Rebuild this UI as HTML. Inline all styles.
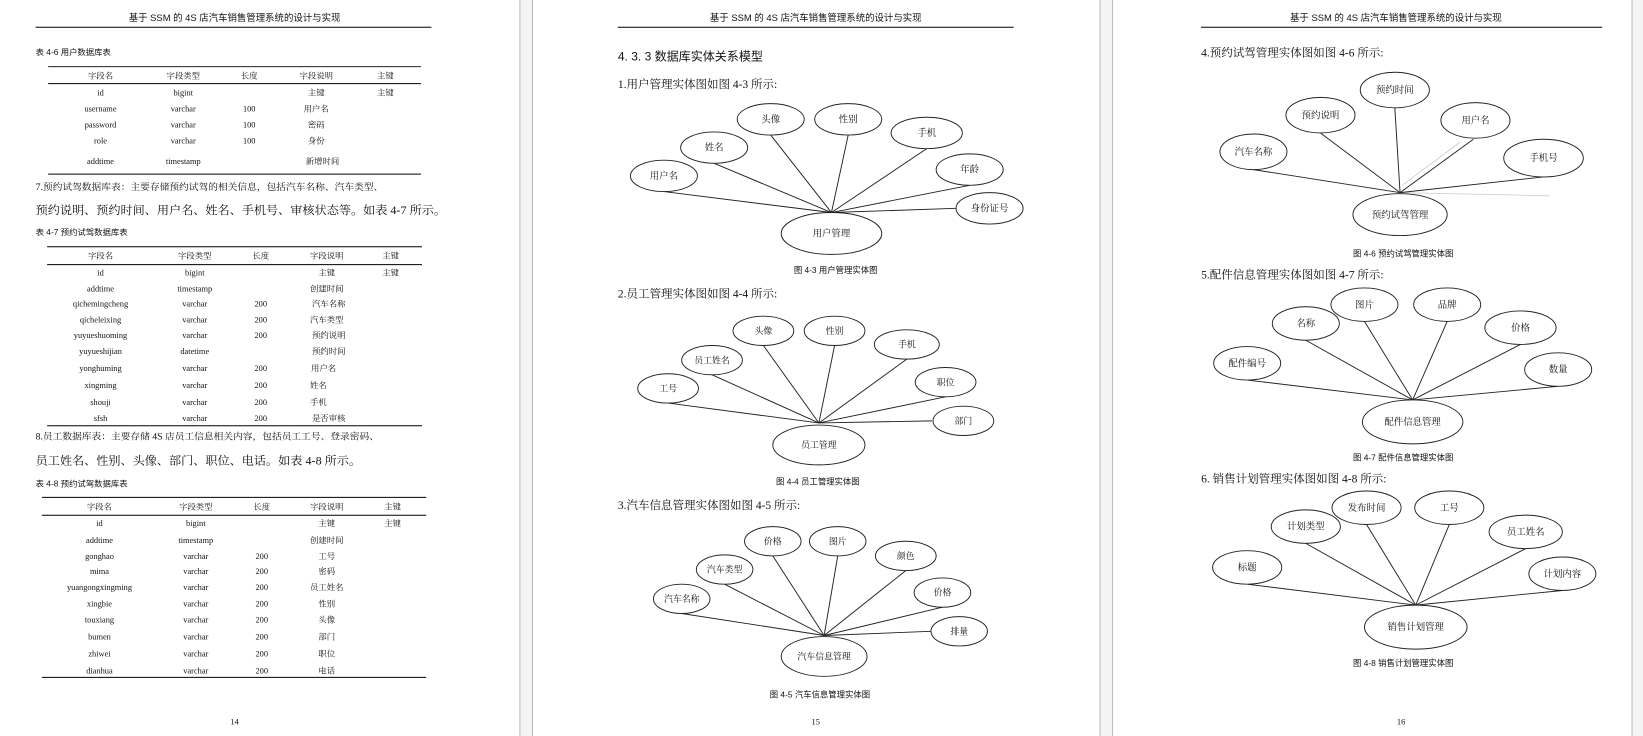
<!DOCTYPE html>
<html><head><meta charset="utf-8"><style>
html,body{margin:0;padding:0;background:#fff;width:1643px;height:736px;overflow:hidden}
svg{display:block}
text{font-family:"Liberation Serif","Noto Serif CJK SC",serif;fill:#111}
.s{font-family:"Liberation Sans","Noto Sans CJK SC",sans-serif}
</style></head><body>
<svg width="1643" height="736" viewBox="0 0 1569 703" preserveAspectRatio="none" xmlns="http://www.w3.org/2000/svg">
<rect x="0" y="0" width="1569" height="703" fill="#fff"/>
<rect x="496" y="0" width="13" height="703" fill="#f4f4f4"/>
<line x1="496.5" y1="0" x2="496.5" y2="703" stroke="#bbb"/><line x1="508.5" y1="0" x2="508.5" y2="703" stroke="#bbb"/>
<rect x="1050" y="0" width="13" height="703" fill="#f4f4f4"/>
<line x1="1050.5" y1="0" x2="1050.5" y2="703" stroke="#bbb"/><line x1="1062.5" y1="0" x2="1062.5" y2="703" stroke="#bbb"/>
<rect x="1558" y="0" width="11" height="703" fill="#f4f4f4"/>
<line x1="1558.5" y1="0" x2="1558.5" y2="703" stroke="#bbb"/>

<!-- PAGE 14 -->
<g font-size="9">
<text x="224" y="20" text-anchor="middle" class="s">基于 SSM 的 4S 店汽车销售管理系统的设计与实现</text>
<line x1="34" y1="26" x2="412" y2="26" stroke="#000"/>
</g>
<g transform="translate(0,1) scale(1,0.95)">
<text x="34" y="54" font-size="8" class="s">表 4-6 用户数据库表</text>
<g stroke="#000" stroke-width="1">
<line x1="46" y1="66" x2="402" y2="66"/><line x1="46" y1="83" x2="402" y2="83"/><line x1="46" y1="174" x2="402" y2="174"/>
<line x1="45" y1="247" x2="403" y2="247"/><line x1="45" y1="265" x2="403" y2="265"/><line x1="45" y1="427" x2="403" y2="427"/>
<line x1="40" y1="499" x2="407" y2="499"/><line x1="40" y1="517" x2="407" y2="517"/><line x1="40" y1="680" x2="407" y2="680"/>
</g>
<g font-size="8" text-anchor="middle">
<text x="96" y="78">字段名</text><text x="175" y="78">字段类型</text><text x="238" y="78">长度</text><text x="302" y="78">字段说明</text><text x="368" y="78">主键</text>
<text x="96" y="95">id</text><text x="175" y="95">bigint</text><text x="302" y="95">主键</text><text x="368" y="95">主键</text>
<text x="96" y="111">username</text><text x="175" y="111">varchar</text><text x="238" y="111">100</text><text x="302" y="111">用户名</text>
<text x="96" y="127">password</text><text x="175" y="127">varchar</text><text x="238" y="127">100</text><text x="302" y="127">密码</text>
<text x="96" y="143">role</text><text x="175" y="143">varchar</text><text x="238" y="143">100</text><text x="302" y="143">身份</text>
<text x="96" y="164">addtime</text><text x="175" y="164">timestamp</text><text x="308" y="164">新增时间</text>
</g>
<text x="34" y="190" font-size="9.3">7.预约试驾数据库表：主要存储预约试驾的相关信息，包括汽车名称、汽车类型、</text>
<text x="34" y="214" font-size="11.6">预约说明、预约时间、用户名、姓名、手机号、审核状态等。如表 4-7 所示。</text>
<text x="34" y="235" font-size="8" class="s">表 4-7 预约试驾数据库表</text>
<g font-size="8" text-anchor="middle">
<text x="96" y="259">字段名</text><text x="186" y="259">字段类型</text><text x="249" y="259">长度</text><text x="312" y="259">字段说明</text><text x="373" y="259">主键</text>
<text x="96" y="276">id</text><text x="186" y="276">bigint</text><text x="312" y="276">主键</text><text x="373" y="276">主键</text>
<text x="96" y="292">addtime</text><text x="186" y="292">timestamp</text><text x="312" y="292">创建时间</text>
<text x="96" y="307">qichemingcheng</text><text x="186" y="307">varchar</text><text x="249" y="307">200</text><text x="314" y="307">汽车名称</text>
<text x="96" y="323">qicheleixing</text><text x="186" y="323">varchar</text><text x="249" y="323">200</text><text x="312" y="323">汽车类型</text>
<text x="96" y="339">yuyueshuoming</text><text x="186" y="339">varchar</text><text x="249" y="339">200</text><text x="314" y="339">预约说明</text>
<text x="96" y="355">yuyueshijian</text><text x="186" y="355">datetime</text><text x="314" y="355">预约时间</text>
<text x="96" y="372">yonghuming</text><text x="186" y="372">varchar</text><text x="249" y="372">200</text><text x="309" y="372">用户名</text>
<text x="96" y="389">xingming</text><text x="186" y="389">varchar</text><text x="249" y="389">200</text><text x="304" y="389">姓名</text>
<text x="96" y="406">shouji</text><text x="186" y="406">varchar</text><text x="249" y="406">200</text><text x="304" y="406">手机</text>
<text x="96" y="422">sfsh</text><text x="186" y="422">varchar</text><text x="249" y="422">200</text><text x="314" y="422">是否审核</text>
</g>
<text x="34" y="441" font-size="9.3">8.员工数据库表：主要存储 4S 店员工信息相关内容，包括员工工号、登录密码、</text>
<text x="34" y="466" font-size="11.6">员工姓名、性别、头像、部门、职位、电话。如表 4-8 所示。</text>
<text x="34" y="488" font-size="8" class="s">表 4-8 预约试驾数据库表</text>
<g font-size="8" text-anchor="middle">
<text x="95" y="511">字段名</text><text x="187" y="511">字段类型</text><text x="250" y="511">长度</text><text x="312" y="511">字段说明</text><text x="375" y="511">主键</text>
<text x="95" y="528">id</text><text x="187" y="528">bigint</text><text x="312" y="528">主键</text><text x="375" y="528">主键</text>
<text x="95" y="545">addtime</text><text x="187" y="545">timestamp</text><text x="312" y="545">创建时间</text>
<text x="95" y="561">gonghao</text><text x="187" y="561">varchar</text><text x="250" y="561">200</text><text x="312" y="561">工号</text>
<text x="95" y="576">mima</text><text x="187" y="576">varchar</text><text x="250" y="576">200</text><text x="312" y="576">密码</text>
<text x="95" y="592">yuangongxingming</text><text x="187" y="592">varchar</text><text x="250" y="592">200</text><text x="312" y="592">员工姓名</text>
<text x="95" y="609">xingbie</text><text x="187" y="609">varchar</text><text x="250" y="609">200</text><text x="312" y="609">性别</text>
<text x="95" y="625">touxiang</text><text x="187" y="625">varchar</text><text x="250" y="625">200</text><text x="312" y="625">头像</text>
<text x="95" y="642">bumen</text><text x="187" y="642">varchar</text><text x="250" y="642">200</text><text x="312" y="642">部门</text>
<text x="95" y="659">zhiwei</text><text x="187" y="659">varchar</text><text x="250" y="659">200</text><text x="312" y="659">职位</text>
<text x="95" y="676">dianhua</text><text x="187" y="676">varchar</text><text x="250" y="676">200</text><text x="312" y="676">电话</text>
</g>
</g>
<text x="224" y="692" font-size="8" text-anchor="middle">14</text>

<!-- PAGE 15 -->
<text x="779" y="20" font-size="9" text-anchor="middle" class="s">基于 SSM 的 4S 店汽车销售管理系统的设计与实现</text>
<line x1="590" y1="26" x2="968" y2="26" stroke="#000"/>
<text x="590" y="58" font-size="11.5" class="s">4. 3. 3 数据库实体关系模型</text>
<text x="590" y="84" font-size="11">1.用户管理实体图如图 4-3 所示:</text>
<g transform="translate(0,-2)">
<g stroke="#222" stroke-width="0.9" fill="#fff">
<line x1="634" y1="185" x2="794" y2="205"/><line x1="682" y1="158" x2="794" y2="205"/><line x1="736" y1="131" x2="794" y2="205"/><line x1="810" y1="131" x2="794" y2="205"/><line x1="885" y1="144" x2="794" y2="205"/><line x1="926" y1="179" x2="794" y2="205"/><line x1="913" y1="201" x2="794" y2="205"/>
<ellipse cx="794" cy="225" rx="48" ry="20"/>
<ellipse cx="634" cy="170" rx="32" ry="15"/><ellipse cx="682" cy="143" rx="32" ry="15"/><ellipse cx="736" cy="116" rx="32" ry="15"/><ellipse cx="810" cy="116" rx="32" ry="15"/><ellipse cx="885" cy="129" rx="34" ry="15"/><ellipse cx="926" cy="164" rx="32" ry="15"/><ellipse cx="945" cy="201" rx="32" ry="15"/>
</g>
<g font-size="9" text-anchor="middle">
<text x="794" y="228">用户管理</text><text x="634" y="173">用户名</text><text x="682" y="146">姓名</text><text x="736" y="119">头像</text><text x="810" y="119">性别</text><text x="885" y="132">手机</text><text x="926" y="167">年龄</text><text x="945" y="204">身份证号</text>
</g>
<text x="798" y="263" font-size="8" text-anchor="middle" class="s">图 4-3 用户管理实体图</text>
</g>
<g transform="translate(0,-5)">
<text x="590" y="289" font-size="11">2.员工管理实体图如图 4-4 所示:</text>
<g stroke="#222" stroke-width="0.9" fill="#fff">
<line x1="638" y1="390" x2="782" y2="409"/><line x1="680" y1="363" x2="782" y2="409"/><line x1="729" y1="335" x2="782" y2="409"/><line x1="797" y1="335" x2="782" y2="409"/><line x1="866" y1="348" x2="782" y2="409"/><line x1="903" y1="384" x2="782" y2="409"/><line x1="890" y1="407" x2="782" y2="409"/>
<ellipse cx="782" cy="430" rx="44" ry="19"/>
<ellipse cx="638" cy="376" rx="29" ry="14"/><ellipse cx="680" cy="349" rx="29" ry="14"/><ellipse cx="729" cy="321" rx="29" ry="14"/><ellipse cx="797" cy="321" rx="29" ry="14"/><ellipse cx="866" cy="334" rx="31" ry="14"/><ellipse cx="903" cy="370" rx="29" ry="14"/><ellipse cx="920" cy="407" rx="29" ry="14"/>
</g>
<g font-size="8.5" text-anchor="middle">
<text x="782" y="433">员工管理</text><text x="638" y="379">工号</text><text x="680" y="352">员工姓名</text><text x="729" y="324">头像</text><text x="797" y="324">性别</text><text x="866" y="337">手机</text><text x="903" y="373">职位</text><text x="920" y="410">部门</text>
</g>
<text x="781" y="468" font-size="8" text-anchor="middle" class="s">图 4-4 员工管理实体图</text>
</g>
<g transform="translate(0,-8)">
<text x="590" y="494" font-size="11">3.汽车信息管理实体图如图 4-5 所示:</text>
<g stroke="#222" stroke-width="0.9" fill="#fff">
<line x1="651" y1="594" x2="787" y2="615"/><line x1="692" y1="566" x2="787" y2="615"/><line x1="738" y1="539" x2="787" y2="615"/><line x1="800" y1="539" x2="787" y2="615"/><line x1="865" y1="553" x2="787" y2="615"/><line x1="900" y1="588" x2="787" y2="615"/><line x1="889" y1="611" x2="787" y2="615"/>
<ellipse cx="787" cy="635" rx="41" ry="19"/>
<ellipse cx="651" cy="580" rx="27" ry="14"/><ellipse cx="692" cy="552" rx="27" ry="14"/><ellipse cx="738" cy="525" rx="27" ry="14"/><ellipse cx="800" cy="525" rx="27" ry="14"/><ellipse cx="865" cy="539" rx="29" ry="14"/><ellipse cx="900" cy="574" rx="27" ry="14"/><ellipse cx="916" cy="611" rx="27" ry="14"/>
</g>
<g font-size="8.5" text-anchor="middle">
<text x="787" y="638">汽车信息管理</text><text x="651" y="583">汽车名称</text><text x="692" y="555">汽车类型</text><text x="738" y="528">价格</text><text x="800" y="528">图片</text><text x="865" y="542">颜色</text><text x="900" y="577">价格</text><text x="916" y="614">排量</text>
</g>
<text x="783" y="674" font-size="8" text-anchor="middle" class="s">图 4-5 汽车信息管理实体图</text>
</g>
<text x="779" y="692" font-size="8" text-anchor="middle">15</text>

<!-- PAGE 16 -->
<text x="1333" y="20" font-size="9" text-anchor="middle" class="s">基于 SSM 的 4S 店汽车销售管理系统的设计与实现</text>
<line x1="1147" y1="26" x2="1530" y2="26" stroke="#000"/>
<text x="1147" y="54" font-size="11">4.预约试驾管理实体图如图 4-6 所示:</text>
<g transform="translate(0,-1)">
<line x1="1339" y1="178" x2="1394" y2="137" stroke="#ccc" stroke-width="0.8"/>
<line x1="1337" y1="185" x2="1480" y2="188" stroke="#ccc" stroke-width="0.8"/>
<g stroke="#222" stroke-width="0.9" fill="#fff">
<line x1="1197" y1="163" x2="1337" y2="185"/><line x1="1261" y1="128" x2="1337" y2="185"/><line x1="1332" y1="104" x2="1337" y2="185"/><line x1="1407" y1="134" x2="1337" y2="185"/><line x1="1474" y1="170" x2="1337" y2="185"/>
<ellipse cx="1337" cy="206" rx="45" ry="20"/>
<ellipse cx="1197" cy="146" rx="32" ry="17"/><ellipse cx="1261" cy="111" rx="33" ry="17"/><ellipse cx="1332" cy="87" rx="33" ry="17"/><ellipse cx="1409" cy="116" rx="33" ry="17"/><ellipse cx="1474" cy="152" rx="38" ry="18"/>
</g>
<g font-size="9" text-anchor="middle">
<text x="1337" y="209">预约试驾管理</text><text x="1197" y="149">汽车名称</text><text x="1261" y="114">预约说明</text><text x="1332" y="90">预约时间</text><text x="1409" y="119">用户名</text><text x="1474" y="155">手机号</text>
</g>
<text x="1340" y="246" font-size="8" text-anchor="middle" class="s">图 4-6 预约试驾管理实体图</text>
</g>
<g transform="translate(0,-4)">
<text x="1147" y="270" font-size="11">5.配件信息管理实体图如图 4-7 所示:</text>
<g stroke="#222" stroke-width="0.9" fill="#fff">
<line x1="1191" y1="367" x2="1349" y2="386"/><line x1="1247" y1="329" x2="1349" y2="386"/><line x1="1303" y1="311" x2="1349" y2="386"/><line x1="1382" y1="311" x2="1349" y2="386"/><line x1="1452" y1="333" x2="1349" y2="386"/><line x1="1488" y1="373" x2="1349" y2="386"/>
<ellipse cx="1349" cy="407" rx="48" ry="21"/>
<ellipse cx="1191" cy="351" rx="32" ry="16"/><ellipse cx="1247" cy="313" rx="32" ry="16"/><ellipse cx="1303" cy="295" rx="32" ry="16"/><ellipse cx="1382" cy="295" rx="32" ry="16"/><ellipse cx="1452" cy="317" rx="34" ry="16"/><ellipse cx="1488" cy="357" rx="32" ry="16"/>
</g>
<g font-size="9" text-anchor="middle">
<text x="1349" y="410">配件信息管理</text><text x="1191" y="354">配件编号</text><text x="1247" y="316">名称</text><text x="1303" y="298">图片</text><text x="1382" y="298">品牌</text><text x="1452" y="320">价格</text><text x="1488" y="360">数量</text>
</g>
<text x="1340" y="444" font-size="8" text-anchor="middle" class="s">图 4-7 配件信息管理实体图</text>
</g>
<g transform="translate(0,-7)">
<text x="1147" y="468" font-size="11">6. 销售计划管理实体图如图 4-8 所示:</text>
<g stroke="#222" stroke-width="0.9" fill="#fff">
<line x1="1191" y1="565" x2="1352" y2="585"/><line x1="1247" y1="526" x2="1352" y2="585"/><line x1="1305" y1="508" x2="1352" y2="585"/><line x1="1384" y1="508" x2="1352" y2="585"/><line x1="1457" y1="531" x2="1352" y2="585"/><line x1="1492" y1="571" x2="1352" y2="585"/>
<ellipse cx="1352" cy="606" rx="49" ry="21"/>
<ellipse cx="1191" cy="549" rx="33" ry="16"/><ellipse cx="1247" cy="510" rx="33" ry="16"/><ellipse cx="1305" cy="492" rx="33" ry="16"/><ellipse cx="1384" cy="492" rx="33" ry="16"/><ellipse cx="1457" cy="515" rx="35" ry="16"/><ellipse cx="1492" cy="555" rx="32" ry="16"/>
</g>
<g font-size="9" text-anchor="middle">
<text x="1352" y="609">销售计划管理</text><text x="1191" y="552">标题</text><text x="1247" y="513">计划类型</text><text x="1305" y="495">发布时间</text><text x="1384" y="495">工号</text><text x="1457" y="518">员工姓名</text><text x="1492" y="558">计划内容</text>
</g>
<text x="1340" y="643" font-size="8" text-anchor="middle" class="s">图 4-8 销售计划管理实体图</text>
</g>
<text x="1338" y="692" font-size="8" text-anchor="middle">16</text>
</svg>
</body></html>
